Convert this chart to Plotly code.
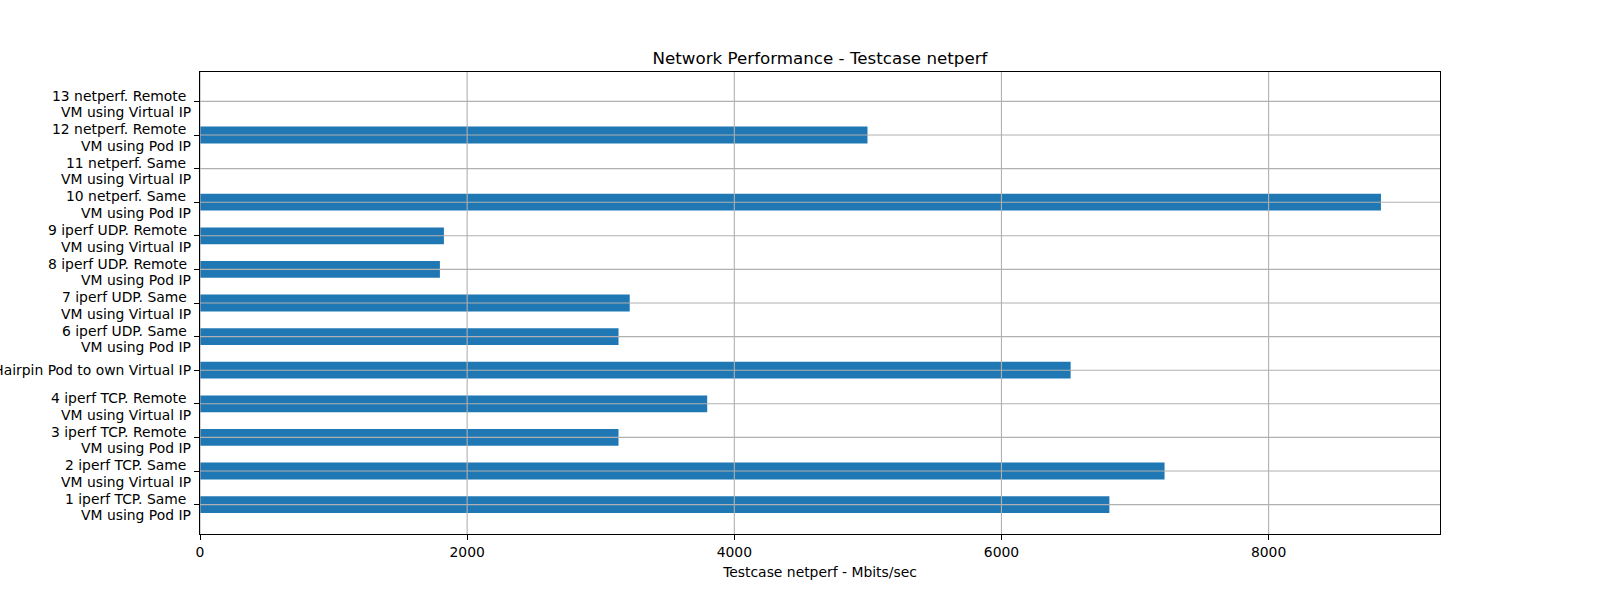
import plotly.graph_objects as go

NB = "\u00a0"
labels = [
    "1 iperf TCP. Same" + NB + "\nVM using Pod IP",
    "2 iperf TCP. Same" + NB + "\nVM using Virtual IP",
    "3 iperf TCP. Remote" + NB + "\nVM using Pod IP",
    "4 iperf TCP. Remote" + NB + "\nVM using Virtual IP",
    "5 Hairpin Pod to own Virtual IP",
    "6 iperf UDP. Same" + NB + "\nVM using Pod IP",
    "7 iperf UDP. Same" + NB + "\nVM using Virtual IP",
    "8 iperf UDP. Remote" + NB + "\nVM using Pod IP",
    "9 iperf UDP. Remote" + NB + "\nVM using Virtual IP",
    "10 netperf. Same" + NB + "\nVM using Pod IP",
    "11 netperf. Same" + NB + "\nVM using Virtual IP",
    "12 netperf. Remote" + NB + "\nVM using Pod IP",
    "13 netperf. Remote" + NB + "\nVM using Virtual IP",
]
values = [6808, 7221, 3133, 3797, 6518, 3133, 3217, 1796, 1826, 8841, 0, 4997, 0]
xticks = [0, 2000, 4000, 6000, 8000]

positions = list(range(len(labels)))
xmax = max(values) * 1.05
ylo, yhi = -0.25 - 0.05 * 12.5, 12.25 + 0.05 * 12.5

fig = go.Figure()
fig.add_trace(go.Bar(
    x=values, y=positions, orientation="h", width=0.5,
    marker=dict(color="#1f77b4", line=dict(width=0)),
))

grid = dict(color="#b0b0b0", width=1.1)
shapes = []
for xv in xticks:
    shapes.append(dict(type="line", xref="x", yref="paper", x0=xv, x1=xv, y0=0, y1=1,
                       line=grid, layer="above"))
for yv in positions:
    shapes.append(dict(type="line", xref="paper", yref="y", x0=0, x1=1, y0=yv, y1=yv,
                       line=grid, layer="above"))

# y tick labels (matplotlib-like multi-line, right aligned)
annotations = []
for pos, lab in zip(positions, labels):
    lines = lab.split("\n")
    n = len(lines)
    for i, ln in enumerate(lines):
        if n == 1:
            ys = 0
        else:
            ys = ((n - 1) / 2 - i) * 16.5 - 2.5
        annotations.append(dict(
            text=ln, xref="paper", yref="y", x=0, y=pos, xanchor="right", yanchor="middle",
            xshift=-7, yshift=ys, showarrow=False, align="right",
            font=dict(family="DejaVu Sans", size=13.9, color="black"),
        ))

fig.update_layout(
    width=1600, height=600,
    margin=dict(l=200, r=160, t=72, b=66),
    paper_bgcolor="white", plot_bgcolor="white",
    font=dict(family="DejaVu Sans", size=13.9, color="black"),
    title=dict(text="Network Performance - Testcase netperf", x=820/1600, xanchor="center",
               y=1 - 58/600, yanchor="middle", font=dict(size=16.7)),
    showlegend=False,
    shapes=shapes,
    annotations=annotations,
    xaxis=dict(range=[0, xmax], tickvals=xticks, ticktext=[str(v) for v in xticks],
               showgrid=False, zeroline=False, showline=True, linecolor="black", linewidth=1.1,
               mirror=True, ticks="outside", ticklen=5, tickwidth=1.1, tickcolor="black",
               title=dict(text="Testcase netperf - Mbits/sec", standoff=8, font=dict(size=13.9)),
               automargin=False),
    yaxis=dict(range=[ylo, yhi], tickvals=positions, showticklabels=False,
               showgrid=False, zeroline=False, showline=True, linecolor="black", linewidth=1.1,
               mirror=True, ticks="outside", ticklen=5, tickwidth=1.1, tickcolor="black",
               automargin=False),
)

fig.write_html("out.html", config={"displayModeBar": False},
               post_script="document.body.style.margin='0';document.body.style.padding='0';")
